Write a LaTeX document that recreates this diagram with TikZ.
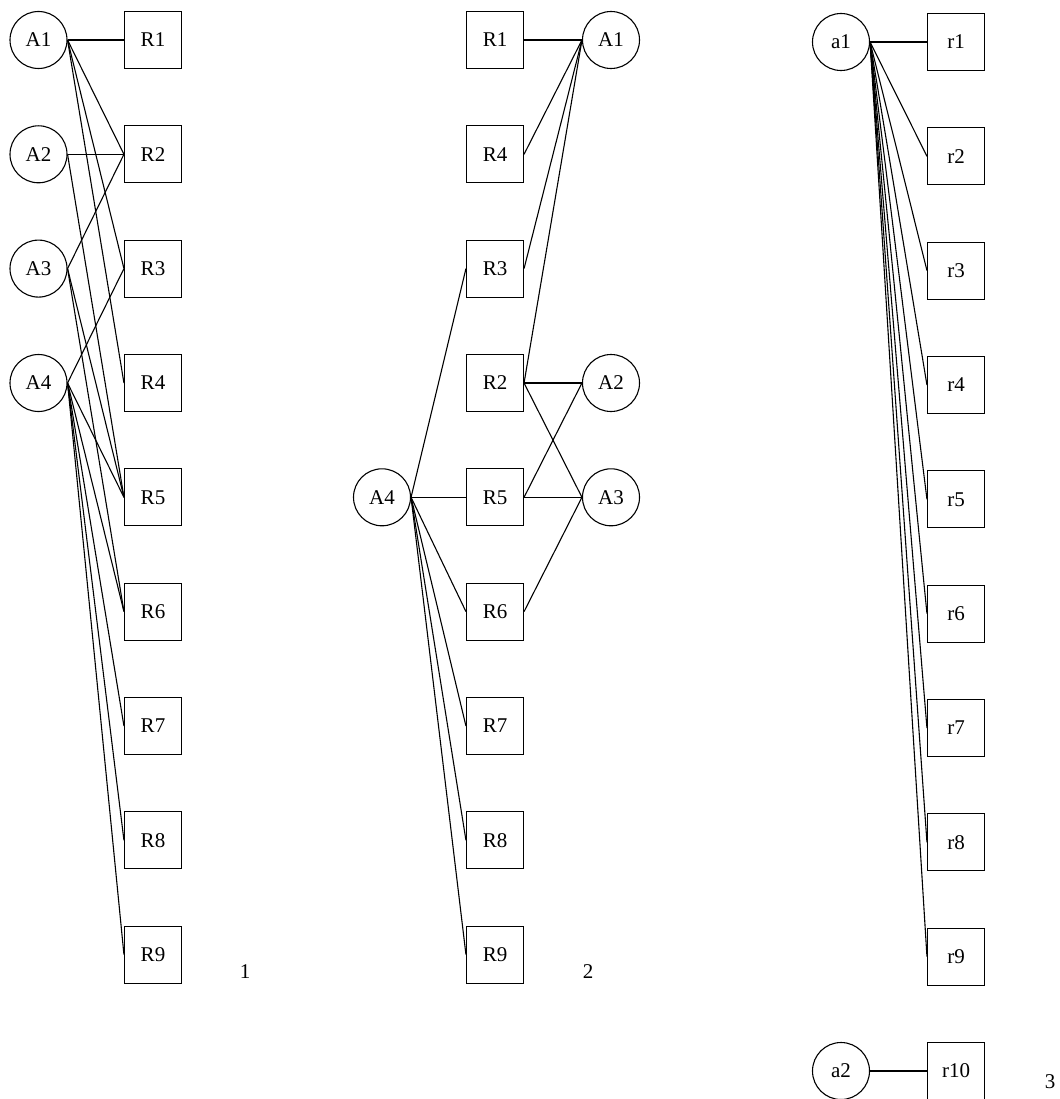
\documentclass[tikz,border=0pt]{standalone}
\usepackage{fontspec}
\setmainfont{Liberation Serif}
\usepackage{tikz}
\usetikzlibrary{positioning}

\begin{document}
\begin{tikzpicture}[
    x=1pt, y=-1pt,
    role/.style={draw, circle, minimum size=57pt, inner sep=0pt, line width=1.1pt, font=\fontsize{21}{25}\selectfont},
    res/.style={draw, rectangle, minimum size=57pt, inner sep=0pt, line width=1.1pt, font=\fontsize{21}{25}\selectfont},
    tag/.style={font=\fontsize{21}{25}\selectfont},
    link/.style={line width=1.1pt}
]
\useasboundingbox (0,0) rectangle (1059,1099);

% Nodes - graph 1
\node (A1) [role] at (38.5,40) {A1};
\node (A2) [role] at (38.5,154.3) {A2};
\node (A3) [role] at (38.5,268.6) {A3};
\node (A4) [role] at (38.5,383) {A4};
\node (R1) [res] at (153,40) {R1};
\node (R2) [res] at (153,154.3) {R2};
\node (R3) [res] at (153,268.6) {R3};
\node (R4) [res] at (153,383) {R4};
\node (R5) [res] at (153,497.3) {R5};
\node (R6) [res] at (153,611.6) {R6};
\node (R7) [res] at (153,726) {R7};
\node (R8) [res] at (153,840.3) {R8};
\node (R9) [res] at (153,954.6) {R9};
\node (lbl1) [tag] at (245,972) {1};

% Nodes - graph 2
\node (bR1) [res] at (495,40) {R1};
\node (bR4) [res] at (495,154.3) {R4};
\node (bR3) [res] at (495,268.6) {R3};
\node (bR2) [res] at (495,383) {R2};
\node (bR5) [res] at (495,497.3) {R5};
\node (bR6) [res] at (495,611.6) {R6};
\node (bR7) [res] at (495,726) {R7};
\node (bR8) [res] at (495,840.3) {R8};
\node (bR9) [res] at (495,954.6) {R9};
\node (bA1) [role] at (611,40) {A1};
\node (bA2) [role] at (611,383) {A2};
\node (bA3) [role] at (611,497.3) {A3};
\node (bA4) [role] at (382,497.3) {A4};
\node (lbl2) [tag] at (588,972) {2};

% Nodes - graph 3
\node (a1) [role] at (841,42) {a1};
\node (a2) [role] at (841,1071) {a2};
\node (r1) [res] at (956,42) {r1};
\node (r2) [res] at (956,156.3) {r2};
\node (r3) [res] at (956,270.6) {r3};
\node (r4) [res] at (956,385) {r4};
\node (r5) [res] at (956,499.3) {r5};
\node (r6) [res] at (956,613.6) {r6};
\node (r7) [res] at (956,728) {r7};
\node (r8) [res] at (956,842.3) {r8};
\node (r9) [res] at (956,956.6) {r9};
\node (r10) [res] at (956,1071) {r10};
\node (lbl3) [tag] at (1050,1082) {3};

% Edges - graph 1
\draw [link] (A1.east) -- (R1.west);
\draw [link] (A1.east) -- (R2.west);
\draw [link] (A1.east) -- (R3.west);
\draw [link] (A1.east) -- (R4.west);
\draw [link] (A2.east) -- (R2.west);
\draw [link] (A2.east) -- (R5.west);
\draw [link] (A3.east) -- (R2.west);
\draw [link] (A3.east) -- (R5.west);
\draw [link] (A3.east) -- (R6.west);
\draw [link] (A4.east) -- (R3.west);
\draw [link] (A4.east) -- (R5.west);
\draw [link] (A4.east) -- (R6.west);
\draw [link] (A4.east) -- (R7.west);
\draw [link] (A4.east) -- (R8.west);
\draw [link] (A4.east) -- (R9.west);

% Edges - graph 2
\draw [link] (bA1.west) -- (bR1.east);
\draw [link] (bA1.west) -- (bR4.east);
\draw [link] (bA1.west) -- (bR3.east);
\draw [link] (bA1.west) -- (bR2.east);
\draw [link] (bA2.west) -- (bR2.east);
\draw [link] (bA2.west) -- (bR5.east);
\draw [link] (bA3.west) -- (bR2.east);
\draw [link] (bA3.west) -- (bR5.east);
\draw [link] (bA3.west) -- (bR6.east);
\draw [link] (bA4.east) -- (bR3.west);
\draw [link] (bA4.east) -- (bR5.west);
\draw [link] (bA4.east) -- (bR6.west);
\draw [link] (bA4.east) -- (bR7.west);
\draw [link] (bA4.east) -- (bR8.west);
\draw [link] (bA4.east) -- (bR9.west);

% Edges - graph 3
\draw [link] (a1.east) -- (r1.west);
\draw [link] (a1.east) -- (r2.west);
\draw [link] (a1.east) -- (r3.west);
\draw [link] (a1.east) -- (r4.west);
\draw [link] (a1.east) -- (r5.west);
\draw [link] (a1.east) -- (r6.west);
\draw [link] (a1.east) -- (r7.west);
\draw [link] (a1.east) -- (r8.west);
\draw [link] (a1.east) -- (r9.west);
\draw [link] (a2.east) -- (r10.west);

\end{tikzpicture}
\end{document}
